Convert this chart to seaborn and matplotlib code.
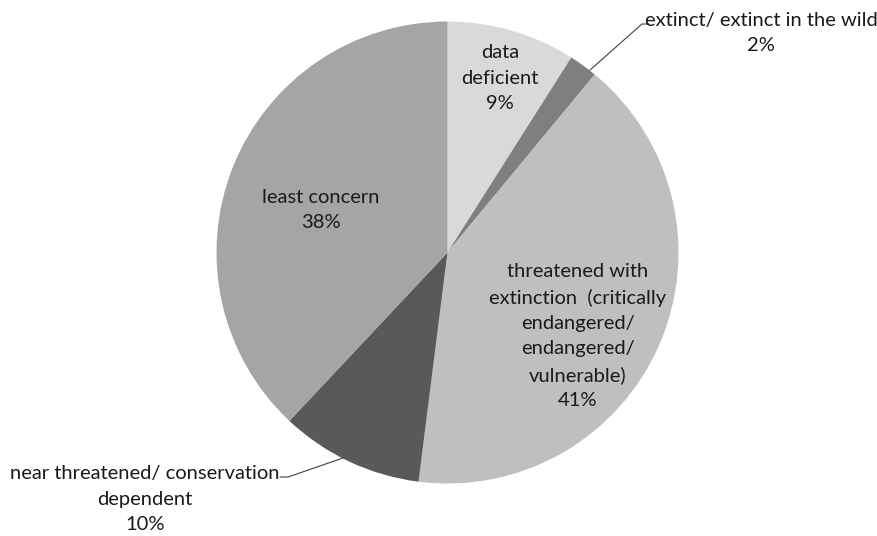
import matplotlib
matplotlib.use("Agg")
import matplotlib.pyplot as plt
import seaborn as sns

sns.set_theme(style="white")
plt.rcParams["font.family"] = ["Lato", "DejaVu Sans"]

# Conservation status shares (percent), clockwise from 12 o'clock
categories = [
    "data\ndeficient",
    "extinct/ extinct in the wild",
    "threatened with\nextinction  (critically\nendangered/\nendangered/\nvulnerable)",
    "near threatened/ conservation\ndependent",
    "least concern",
]
shares = [9, 2, 41, 10, 38]
colors = ["#d9d9d9", "#7f7f7f", "#bfbfbf", "#595959", "#a5a5a5"]

W, H = 877, 536
CX, CY, R = 447.5, 252.5, 231.0


def px(x, y):
    """Pixel position -> data coordinates (pie radius = 1)."""
    return (x - CX) / R, (CY - y) / R


fig = plt.figure(figsize=(W / 100, H / 100), dpi=100)
ax = fig.add_axes([0, 0, 1, 1])
ax.pie(shares, colors=colors, startangle=90, counterclock=False,
       radius=1.0, wedgeprops=dict(linewidth=0))
x0, y0 = px(0, H)
x1, y1 = px(W, 0)
ax.set_xlim(x0, x1)
ax.set_ylim(y0, y1)
ax.set_aspect("equal")
ax.axis("off")

fs = 14.5
tc = "#1a1a1a"
lab = [f"{c}\n{v}%" for c, v in zip(categories, shares)]
kw = dict(ha="center", va="center", fontsize=fs, color=tc, linespacing=1.58)

# inside labels
ax.text(*px(500, 78), lab[0], **kw)
ax.text(*px(578, 336), lab[2], **kw)
ax.text(*px(321, 210), lab[4], **kw)

# outside labels with leader lines
ax.text(*px(761, 33), lab[1], **kw)
lx, ly = zip(px(590, 70), px(642, 24), px(649, 24))
ax.plot(lx, ly, color="#404040", lw=0.8)

ax.text(*px(145, 499), lab[3], **kw)
lx, ly = zip(px(343, 458), px(288, 477), px(280, 477))
ax.plot(lx, ly, color="#404040", lw=0.8)

fig.savefig("out.png", dpi=100)
